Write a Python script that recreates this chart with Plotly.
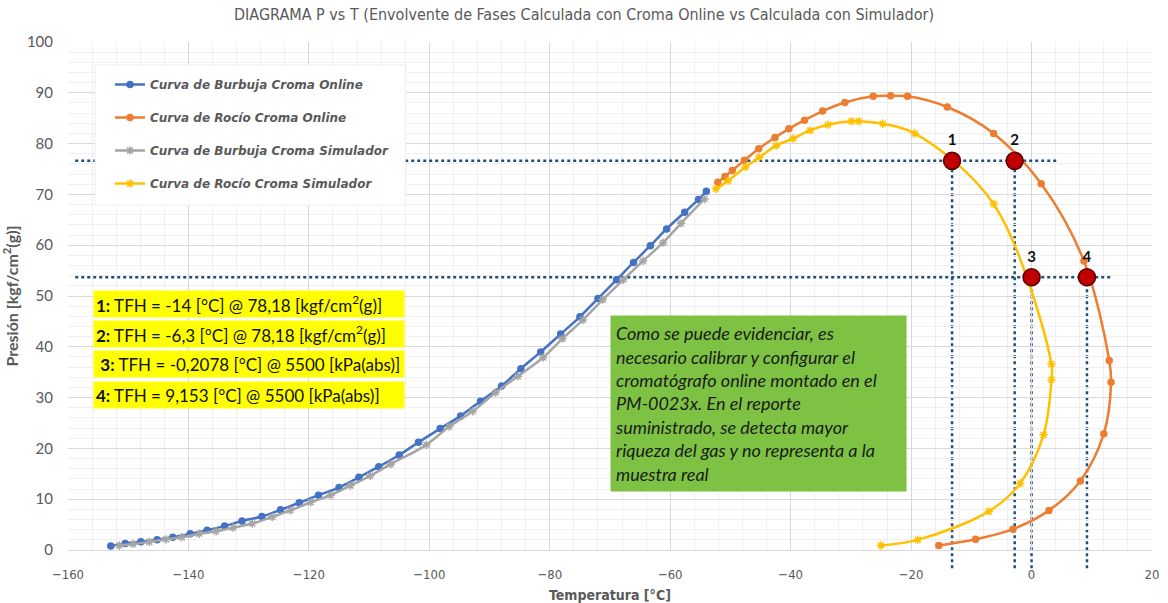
import plotly.graph_objects as go

# ---------------- data ----------------
# Curva de Burbuja Croma Online (blue)
bub_online_T = [-152.9, -150.5, -147.9, -145.2, -142.6, -139.7, -136.9, -134.0, -131.1, -127.8,
                -124.7, -121.6, -118.4, -115.0, -111.7, -108.4, -105.0, -101.8, -98.2, -94.8,
                -91.5, -88.0, -84.8, -81.5, -78.2, -75.0, -72.0, -68.9, -66.1, -63.3,
                -60.6, -57.6, -55.3, -54.0]
bub_online_P = [0.8, 1.3, 1.6, 2.0, 2.5, 3.2, 3.9, 4.7, 5.7, 6.6,
                7.9, 9.3, 10.8, 12.3, 14.3, 16.4, 18.7, 21.2, 23.9, 26.4,
                29.3, 32.3, 35.7, 39.0, 42.5, 45.9, 49.5, 53.2, 56.6, 59.9,
                63.2, 66.5, 69.0, 70.6]

# Curva de Rocío Croma Online (orange)
dew_online_T = [-52.1, -50.9, -49.7, -47.7, -45.3, -42.6, -40.3, -37.7, -34.7, -31.0,
                -26.3, -23.4, -20.6, -14.0, -6.3, 1.6, 8.7, 12.9, 13.2, 12.0,
                8.1, 2.9, -3.1, -9.3, -15.4]
dew_online_P = [72.4, 73.5, 74.7, 76.7, 79.0, 81.2, 82.9, 84.6, 86.4, 88.1,
                89.3, 89.4, 89.3, 87.2, 82.0, 72.1, 56.9, 37.3, 33.0, 22.9,
                13.6, 7.8, 4.1, 2.1, 0.9]

# Curva de Burbuja Croma Simulador (gray)
bub_sim_T = [-151.5, -149.2, -146.5, -143.7, -141.1, -138.2, -135.4, -132.6, -129.4, -126.1,
             -123.1, -119.7, -116.4, -113.1, -109.8, -106.4, -100.5, -96.7, -92.8, -89.0,
             -85.3, -81.1, -77.9, -74.5, -71.2, -67.8, -64.5, -61.2, -58.2, -54.3]
bub_sim_P = [0.9, 1.2, 1.6, 2.1, 2.5, 3.2, 3.7, 4.4, 5.2, 6.5,
             7.8, 9.4, 10.8, 12.7, 14.6, 16.9, 20.7, 24.3, 27.3, 31.0,
             34.2, 37.9, 41.6, 45.3, 49.3, 53.2, 56.9, 60.5, 64.3, 69.1]

# Curva de Rocío Croma Simulador (yellow)
dew_sim_T = [-52.4, -50.4, -47.5, -45.2, -42.4, -39.6, -36.8, -33.8, -29.9, -28.7,
             -24.7, -19.4, -6.3, 3.3, 3.3, 2.0, -1.9, -7.1, -18.9, -25.0]
dew_sim_P = [71.1, 72.7, 75.4, 77.3, 79.6, 81.0, 82.6, 83.7, 84.4, 84.4,
             83.9, 82.0, 68.1, 36.6, 33.5, 22.7, 13.1, 7.6, 2.0, 0.9]

# Puntos TFH (as drawn)
tfh_labels = ["1", "2", "3", "4"]
tfh_T = [-13.2, -2.8, 0.0, 9.2]
tfh_P = [76.6, 76.6, 53.7, 53.7]
hline_end_T = [4.2, 13.3]      # extents of the horizontal guide lines
hline_start_T = -158.8

box_texts = [
    "<b>1:</b> TFH = -14 [°C] @ 78,18 [kgf/cm<sup>2</sup>(g)]",
    "<b>2:</b> TFH = -6,3 [°C] @ 78,18 [kgf/cm<sup>2</sup>(g)]",
    " <b>3:</b> TFH = -0,2078 [°C] @ 5500 [kPa(abs)]",
    "<b>4:</b> TFH = 9,153 [°C] @ 5500 [kPa(abs)]",
]
note_text = ("Como se puede evidenciar, es<br>necesario calibrar y configurar el<br>"
             "cromatógrafo online montado en el<br>PM-0023x. En el reporte<br>"
             "suministrado, se detecta mayor<br>riqueza del gas y no representa a la<br>muestra real")

X_RANGE = [-160, 20]
Y_RANGE = [0, 100]
LEGEND_BOX_T = [-155.5, -104.0]   # legend background extent (decoration)
LEGEND_BOX_P = [67.9, 95.5]

# ---------------- figure ----------------
GRAYTXT = "#595959"
COND = "DejaVu Sans Condensed, Liberation Sans Narrow, Roboto, sans-serif"
CAL = "Lato, Open Sans, sans-serif"

fig = go.Figure()

def add_series(T, P, name, color, symbol, msize, group):
    fig.add_trace(go.Scatter(
        x=T, y=P, name=name, mode="lines+markers",
        line=dict(color=color, width=2.5, shape="spline", smoothing=1.0),
        marker=dict(symbol=symbol, size=msize, color=color,
                    line=dict(color=color, width=1.5)),
        legendgroup=group,
    ))

add_series(bub_online_T, bub_online_P, "Curva de Burbuja Croma Online", "#4472C4", "circle", 6, "a")
add_series(dew_online_T, dew_online_P, "Curva de Rocío Croma Online", "#ED7D31", "circle", 6, "b")
add_series(bub_sim_T, bub_sim_P, "Curva de Burbuja Croma Simulador", "#A5A5A5", "asterisk-open", 7, "c")
add_series(dew_sim_T, dew_sim_P, "Curva de Rocío Croma Simulador", "#FFC000", "asterisk-open", 7, "d")

# guide lines
DASH = dict(color="#1F4E79", width=2.5, dash="dot")
for i, (t0, p0) in enumerate([(tfh_T[0], tfh_P[0]), (tfh_T[2], tfh_P[2])]):
    fig.add_shape(type="line", xref="x", yref="y", x0=hline_start_T, x1=hline_end_T[i],
                  y0=p0, y1=p0, line=DASH, layer="between")
for t, p in zip(tfh_T, tfh_P):
    fig.add_shape(type="line", xref="x", yref="paper", x0=t, x1=t,
                  y0=-0.036, y1=(p - Y_RANGE[0]) / (Y_RANGE[1] - Y_RANGE[0]),
                  line=DASH, layer="between")

# legend background box (drawn over the guide lines)
fig.add_shape(type="rect", xref="x", yref="y",
              x0=LEGEND_BOX_T[0], x1=LEGEND_BOX_T[1], y0=LEGEND_BOX_P[0], y1=LEGEND_BOX_P[1],
              fillcolor="white", line=dict(color="#EEEEEE", width=1), layer="between")

# TFH points
fig.add_trace(go.Scatter(
    x=tfh_T, y=tfh_P, mode="markers+text", text=tfh_labels,
    textposition="top center",
    textfont=dict(family=CAL, size=15, color="#111111", weight="bold"),
    marker=dict(size=17, color="#C00000", line=dict(color="#5A0000", width=1.5)),
    showlegend=False, cliponaxis=False,
))

# yellow info boxes
box_y = [304, 333.5, 363.5, 395]
for txt, yc in zip(box_texts, box_y):
    fig.add_annotation(
        text=txt, xref="paper", yref="paper",
        x=(93 - 68) / 1084, y=(550 - yc) / 508, xanchor="left", yanchor="middle",
        showarrow=False, align="left", width=306, height=22, borderpad=2,
        bgcolor="#FFFF00", font=dict(family=CAL, size=17, color="#111111"),
    )

# green note
fig.add_annotation(
    text="<i>" + note_text + "</i>", xref="paper", yref="paper",
    x=(610 - 68) / 1084, y=(550 - 315) / 508, xanchor="left", yanchor="top",
    showarrow=False, align="left", width=287, height=167, borderpad=4, valign="middle",
    bgcolor="#7DC243", font=dict(family=CAL, size=18, color="#1a1a1a"),
)

fig.update_layout(
    width=1168, height=603,
    margin=dict(l=68, r=16, t=42, b=53, autoexpand=False),
    paper_bgcolor="white", plot_bgcolor="white",
    title=dict(text="DIAGRAMA P vs T (Envolvente de Fases Calculada con Croma Online vs Calculada con Simulador)",
               x=0.5, xref="container", xanchor="center", y=1 - 14 / 603, yanchor="middle",
               font=dict(family=COND, size=16, color=GRAYTXT)),
    legend=dict(x=(110 - 68) / 1084, y=(550 - 70) / 508, xanchor="left", yanchor="top",
                bgcolor="rgba(0,0,0,0)", tracegroupgap=14, itemwidth=30,
                font=dict(family="DejaVu Sans", size=12, color=GRAYTXT, style="italic", weight="bold")),
    xaxis=dict(range=X_RANGE, dtick=20, showgrid=True, gridcolor="#D9D9D9", gridwidth=1,
               minor=dict(dtick=4, showgrid=True, gridcolor="#F0F0F0"),
               zeroline=False, showline=True, linecolor="#D9D9D9", linewidth=1,
               ticks="", ticklabelstandoff=12, automargin=False,
               tickfont=dict(family=COND, size=13, color=GRAYTXT),
               title=dict(text="Temperatura [°C]", standoff=14,
                          font=dict(family=COND, size=14, color=GRAYTXT, weight="bold"))),
    yaxis=dict(range=Y_RANGE, dtick=10, showgrid=True, gridcolor="#D9D9D9", gridwidth=1,
               minor=dict(dtick=2, showgrid=True, gridcolor="#F0F0F0"),
               zeroline=False, showline=False, ticks="", ticklabelstandoff=14, automargin=False,
               tickfont=dict(family=CAL, size=15, color=GRAYTXT),
               title=dict(text="Presión [kgf/cm<sup>2</sup>(g)]", standoff=10,
                          font=dict(family=CAL, size=16, color=GRAYTXT, weight="bold"))),
)

fig.write_html("out.html")
